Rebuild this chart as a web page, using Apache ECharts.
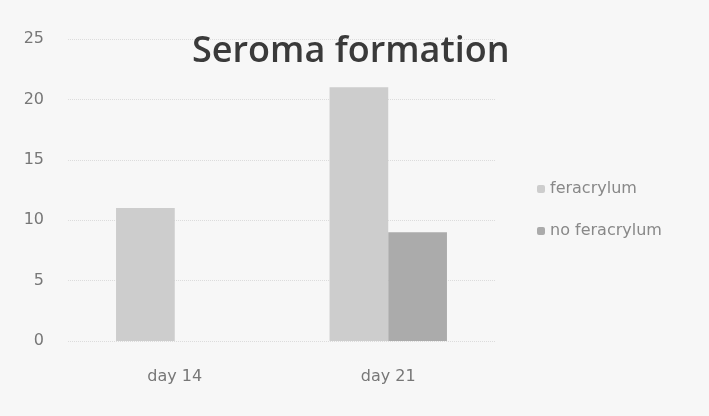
<!DOCTYPE html>
<html>
<head>
<meta charset="utf-8">
<script src="https://cdn.jsdelivr.net/npm/echarts@6/dist/echarts.min.js"></script>
<style>
  html, body { margin: 0; padding: 0; background: #f7f7f7; }
  #chart { width: 709px; height: 416px; }
</style>
</head>
<body>
<div id="chart"></div>
<script>
// data
var categories = ['day 14', 'day 21'];
var feracrylum = [11, 21];
var noFeracrylum = [0, 9];
var yTicks = [0, 5, 10, 15, 20, 25];

var chart = echarts.init(document.getElementById('chart'));
var option = {
  backgroundColor: '#f7f7f7',
  animation: false,
  title: {
    text: 'Seroma formation',
    left: 187,
    top: 29,
    textStyle: { fontFamily: 'Open Sans', fontSize: 36, fontWeight: 600, color: '#3a3a3a' }
  },
  legend: {
    orient: 'vertical',
    left: 532,
    top: 176,
    itemWidth: 8,
    itemHeight: 8,
    itemGap: 26,
    textStyle: { fontFamily: 'DejaVu Sans', fontSize: 16, color: '#888' },
    data: ['feracrylum', 'no feracrylum']
  },
  grid: { left: 68, right: 214, top: 39, bottom: 75 },
  xAxis: {
    type: 'category',
    data: categories,
    axisLine: { show: false },
    axisTick: { show: false },
    axisLabel: { fontFamily: 'DejaVu Sans', fontSize: 16, color: '#777', margin: 28 }
  },
  yAxis: {
    type: 'value',
    min: yTicks[0],
    max: yTicks[yTicks.length - 1],
    interval: 5,
    axisLine: { show: false },
    axisTick: { show: false },
    axisLabel: { fontFamily: 'DejaVu Sans', fontSize: 16, color: '#777', margin: 24 },
    splitLine: { lineStyle: { color: '#dcdcdc', type: 'dotted' } }
  },
  series: [
    {
      name: 'feracrylum',
      type: 'bar',
      data: feracrylum,
      barGap: '0%',
      barCategoryGap: '45%',
      itemStyle: { color: '#cdcdcd' }
    },
    {
      name: 'no feracrylum',
      type: 'bar',
      data: noFeracrylum,
      itemStyle: { color: '#ababab' }
    }
  ]
};
chart.setOption(option);
</script>
</body>
</html>
